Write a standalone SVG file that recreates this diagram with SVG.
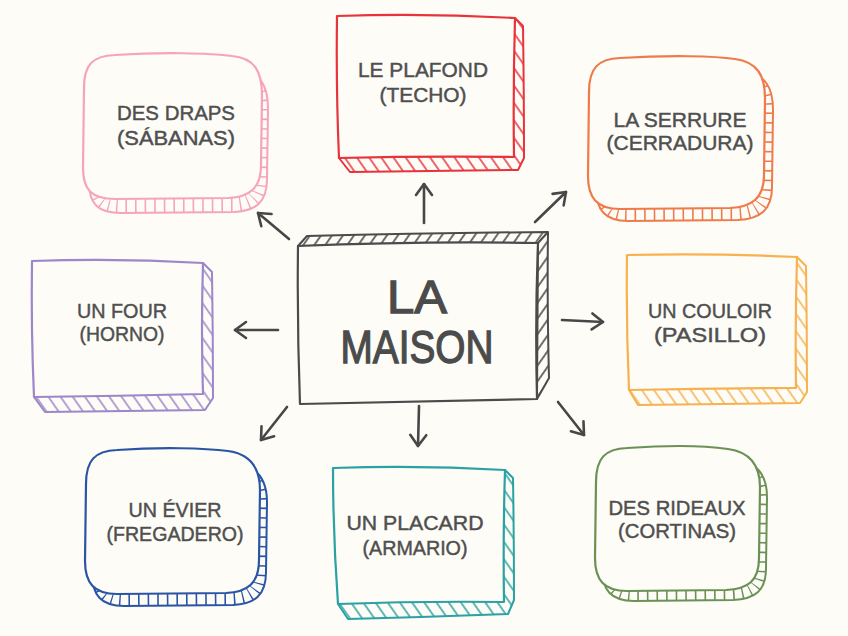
<svg xmlns="http://www.w3.org/2000/svg" xmlns:xlink="http://www.w3.org/1999/xlink" width="848" height="636" viewBox="0 0 848 636">
<style>
.face{fill:#fdfcf7;stroke-width:2.2;stroke-linejoin:round;stroke-linecap:round}
.band{stroke-width:2;stroke-linejoin:round}
.back{fill:none;stroke-width:2}
.tick{fill:none;stroke-width:30;stroke-dasharray:1.6 8}
.lbl{font-family:"Liberation Sans",Arial,sans-serif;font-size:21px;fill:#4f4f4f;stroke:#4f4f4f;stroke-width:0.45;text-anchor:middle}
.big{font-family:"Liberation Sans",Arial,sans-serif;font-size:46px;fill:#4b4b4b;stroke:#4b4b4b;stroke-width:1.3;text-anchor:middle}
.arr{fill:none;stroke:#474747;stroke-width:2.6;stroke-linecap:round;marker-end:url(#ah)}
</style>
<defs>
<marker id="ah" markerUnits="userSpaceOnUse" markerWidth="30" markerHeight="30" refX="0" refY="0" viewBox="-15 -15 30 30" orient="auto" overflow="visible">
<path d="M-11,-8 L0,0 L-11,8" fill="none" stroke="#474747" stroke-width="2.6" stroke-linecap="round" stroke-linejoin="round"/>
</marker>
<pattern id="hg" width="9" height="9" patternUnits="userSpaceOnUse" patternTransform="rotate(35)"><rect width="9" height="9" fill="#fdfcf7"/><line x1="2" y1="0" x2="2" y2="9" stroke="#4b4b4b" stroke-width="1.6"/></pattern>
<pattern id="hr" width="10" height="10" patternUnits="userSpaceOnUse" patternTransform="rotate(-35)"><rect width="10" height="10" fill="#fdfcf7"/><line x1="2" y1="0" x2="2" y2="10" stroke="#e8333b" stroke-width="1.5"/></pattern>
<pattern id="hp" width="10" height="10" patternUnits="userSpaceOnUse" patternTransform="rotate(-35)"><rect width="10" height="10" fill="#fdfcf7"/><line x1="2" y1="0" x2="2" y2="10" stroke="#9d86c9" stroke-width="1.5"/></pattern>
<pattern id="hy" width="10" height="10" patternUnits="userSpaceOnUse" patternTransform="rotate(-35)"><rect width="10" height="10" fill="#fdfcf7"/><line x1="2" y1="0" x2="2" y2="10" stroke="#f7b24f" stroke-width="1.5"/></pattern>
<pattern id="ht" width="10" height="10" patternUnits="userSpaceOnUse" patternTransform="rotate(-35)"><rect width="10" height="10" fill="#fdfcf7"/><line x1="2" y1="0" x2="2" y2="10" stroke="#2aa1a3" stroke-width="1.5"/></pattern>
<path id="p-draps" d="M115,55 C160,52 210,53 232,56 C255,58 262,72 262,95 L261,165 C261,188 250,197 228,198 L115,199 C92,199 83,190 83,168 L84,88 C84,65 92,56 115,55 Z"/>
<path id="p-serr" d="M620,58 C670,55 715,56 735,59 C757,62 765,75 765,98 L764,175 C764,198 752,207 730,208 L620,209 C597,209 588,198 588,176 L589,92 C589,68 598,59 620,58 Z"/>
<path id="p-evier" d="M117,450 C160,447 205,448 228,451 C250,454 260,468 260,490 L259,560 C259,583 248,592 226,593 L117,594 C94,594 85,583 85,561 L86,484 C86,460 95,451 117,450 Z"/>
<path id="p-rid" d="M627,448 C670,445 708,446 728,449 C750,452 760,465 760,487 L759,558 C759,581 748,589 726,590 L627,591 C604,591 595,580 595,558 L596,482 C596,458 605,449 627,448 Z"/>
<clipPath id="c-draps"><use xlink:href="#p-draps" transform="translate(6,14)"/></clipPath>
<clipPath id="c-serr"><use xlink:href="#p-serr" transform="translate(8,12)"/></clipPath>
<clipPath id="c-evier"><use xlink:href="#p-evier" transform="translate(7,12)"/></clipPath>
<clipPath id="c-rid"><use xlink:href="#p-rid" transform="translate(7,10)"/></clipPath>
</defs>
<rect width="848" height="636" fill="#fdfcf7"/>

<g id="connectors">
<path class="arr" d="M424,223 L424,184"/>
<path class="arr" d="M289,239 L258,213"/>
<path class="arr" d="M535,222 L566,192"/>
<path class="arr" d="M278,330 L235,330"/>
<path class="arr" d="M562,320 L603,322"/>
<path class="arr" d="M287,407 L261,440"/>
<path class="arr" d="M419,406 L418,446"/>
<path class="arr" d="M558,402 L584,435"/>
</g>

<g id="node-center">
<path class="band" fill="url(#hg)" stroke="#4b4b4b" d="M298,246 L307,236 Q430,233 548,232 Q547,300 549,378 L537,399 L538,243 Z"/>
<line x1="538" y1="243" x2="548" y2="232" stroke="#4b4b4b" stroke-width="2"/>
<path class="face" stroke="#4b4b4b" d="M298,246 Q420,241 538,243 Q535,320 537,399 Q420,401 300,404 Q297,325 298,246 Z"/>
<text class="big" x="417" y="313" textLength="60" lengthAdjust="spacingAndGlyphs">LA</text>
<text class="big" x="417" y="363" textLength="153" lengthAdjust="spacingAndGlyphs">MAISON</text>
</g>

<g id="node-plafond">
<path class="band" fill="url(#hr)" stroke="#e8333b" d="M515,18 L523,26 Q524,95 524,158 L518,170 Q430,171 350,172 L339,158 Z"/>
<path class="face" stroke="#e8333b" d="M337,16 Q425,13 515,18 Q513,90 514,157 Q425,156 339,158 Q336,90 337,16 Z"/>
<text class="lbl" x="423" y="77" textLength="130" lengthAdjust="spacingAndGlyphs">LE PLAFOND</text>
<text class="lbl" x="423" y="102" textLength="87" lengthAdjust="spacingAndGlyphs">(TECHO)</text>
</g>

<g id="node-draps">
<g clip-path="url(#c-draps)"><use xlink:href="#p-draps" transform="translate(6,14)" class="tick" stroke="#f6a3bd"/></g>
<use xlink:href="#p-draps" transform="translate(6,14)" class="back" stroke="#f6a3bd"/>
<use xlink:href="#p-draps" class="face" stroke="#f6a3bd"/>
<text class="lbl" x="176" y="120" textLength="118" lengthAdjust="spacingAndGlyphs">DES DRAPS</text>
<text class="lbl" x="176" y="145" textLength="118" lengthAdjust="spacingAndGlyphs">(SÁBANAS)</text>
</g>

<g id="node-serrure">
<g clip-path="url(#c-serr)"><use xlink:href="#p-serr" transform="translate(8,12)" class="tick" stroke="#ef7a4a"/></g>
<use xlink:href="#p-serr" transform="translate(8,12)" class="back" stroke="#ef7a4a"/>
<use xlink:href="#p-serr" class="face" stroke="#ef7a4a"/>
<text class="lbl" x="680" y="127" textLength="133" lengthAdjust="spacingAndGlyphs">LA SERRURE</text>
<text class="lbl" x="680" y="150" textLength="147" lengthAdjust="spacingAndGlyphs">(CERRADURA)</text>
</g>

<g id="node-four">
<path class="band" fill="url(#hp)" stroke="#9d86c9" d="M203,263 L212,272 Q213,335 213,398 L205,410 Q125,411 45,412 L34,397 Z"/>
<path class="face" stroke="#9d86c9" d="M32,261 Q118,258 203,263 Q201,330 203,394 Q118,396 34,397 Q31,330 32,261 Z"/>
<text class="lbl" x="122" y="318" textLength="90" lengthAdjust="spacingAndGlyphs">UN FOUR</text>
<text class="lbl" x="122" y="341" textLength="85" lengthAdjust="spacingAndGlyphs">(HORNO)</text>
</g>

<g id="node-couloir">
<path class="band" fill="url(#hy)" stroke="#f7b24f" d="M797,257 L806,266 Q807,330 807,392 L800,403 Q720,404 638,405 L629,390 Z"/>
<path class="face" stroke="#f7b24f" d="M627,255 Q712,253 797,257 Q795,322 796,388 Q712,388 629,390 Q626,322 627,255 Z"/>
<text class="lbl" x="710" y="318" textLength="124" lengthAdjust="spacingAndGlyphs">UN COULOIR</text>
<text class="lbl" x="710" y="342" textLength="112" lengthAdjust="spacingAndGlyphs">(PASILLO)</text>
</g>

<g id="node-evier">
<g clip-path="url(#c-evier)"><use xlink:href="#p-evier" transform="translate(7,12)" class="tick" stroke="#2a55a5"/></g>
<use xlink:href="#p-evier" transform="translate(7,12)" class="back" stroke="#2a55a5"/>
<use xlink:href="#p-evier" class="face" stroke="#2a55a5"/>
<text class="lbl" x="175" y="517" textLength="93" lengthAdjust="spacingAndGlyphs">UN ÉVIER</text>
<text class="lbl" x="175" y="541" textLength="137" lengthAdjust="spacingAndGlyphs">(FREGADERO)</text>
</g>

<g id="node-placard">
<path class="band" fill="url(#ht)" stroke="#2aa1a3" d="M505,470 L513,478 Q514,540 514,600 L508,614 Q428,617 348,619 L338,604 Z"/>
<path class="face" stroke="#2aa1a3" d="M333,468 Q420,465 505,470 Q503,535 504,602 Q420,601 338,604 Q333,535 333,468 Z"/>
<text class="lbl" x="415" y="530" textLength="137" lengthAdjust="spacingAndGlyphs">UN PLACARD</text>
<text class="lbl" x="415" y="555" textLength="105" lengthAdjust="spacingAndGlyphs">(ARMARIO)</text>
</g>

<g id="node-rideaux">
<g clip-path="url(#c-rid)"><use xlink:href="#p-rid" transform="translate(7,10)" class="tick" stroke="#6b9155"/></g>
<use xlink:href="#p-rid" transform="translate(7,10)" class="back" stroke="#6b9155"/>
<use xlink:href="#p-rid" class="face" stroke="#6b9155"/>
<text class="lbl" x="677" y="515" textLength="137" lengthAdjust="spacingAndGlyphs">DES RIDEAUX</text>
<text class="lbl" x="677" y="538" textLength="118" lengthAdjust="spacingAndGlyphs">(CORTINAS)</text>
</g>
</svg>
